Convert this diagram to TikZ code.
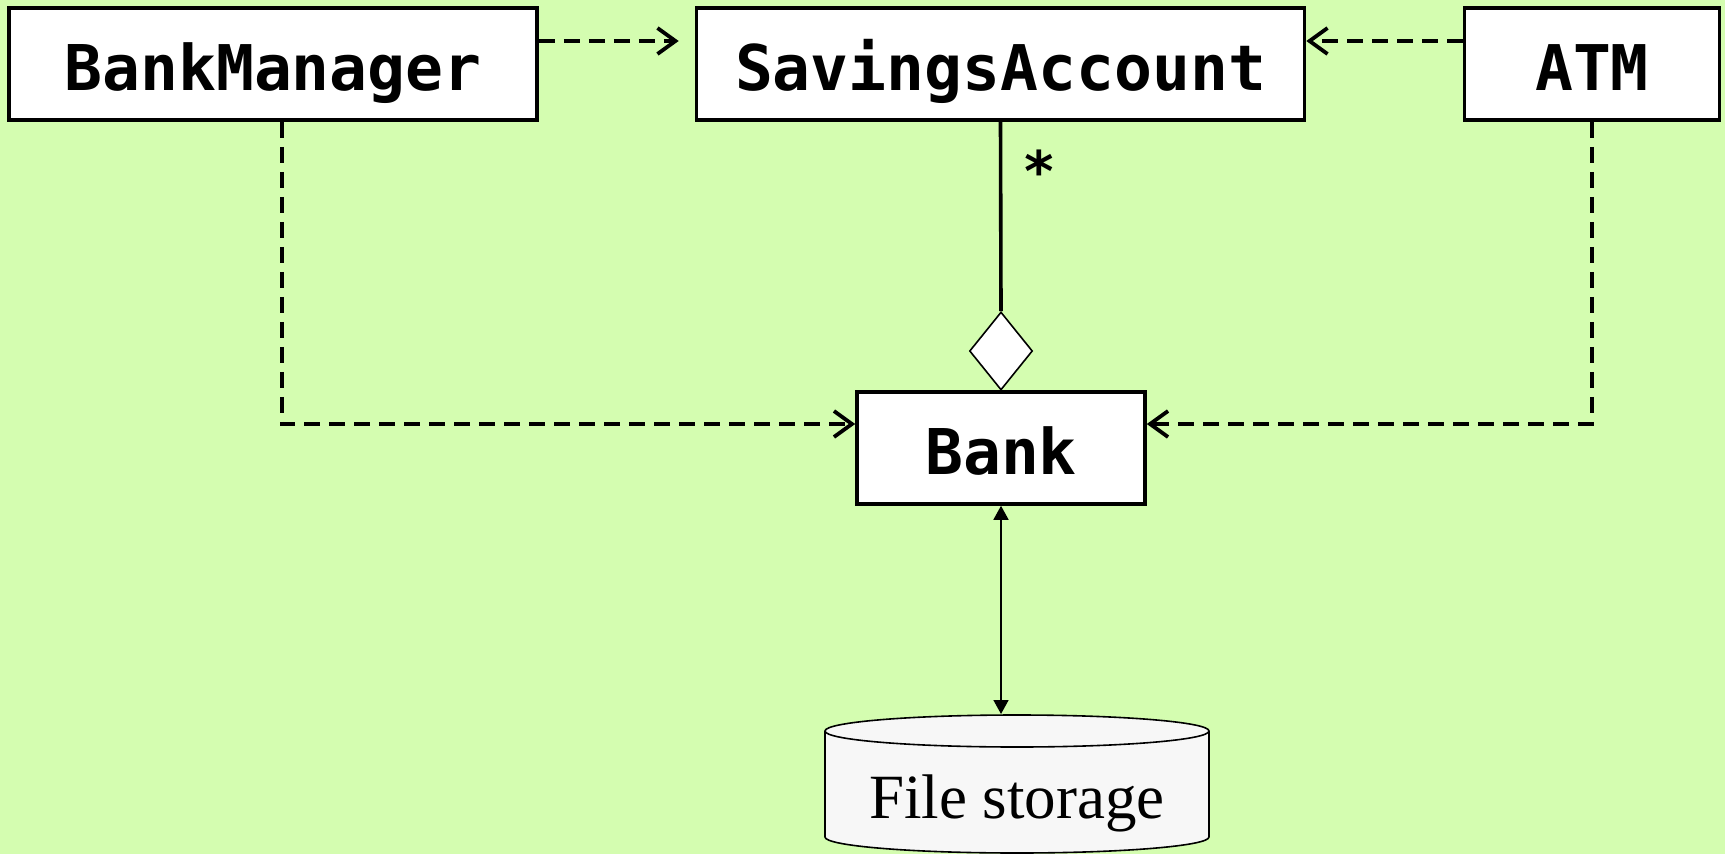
\documentclass[tikz,border=0pt]{standalone}
\usepackage{fontspec}
\setmainfont{Liberation Serif}
\newfontfamily\classfont{DejaVu Sans Mono}
\usetikzlibrary{arrows.meta,shapes.geometric}
\definecolor{bggreen}{RGB}{212,253,176}
\definecolor{storefill}{RGB}{247,247,247}

\begin{document}
\begin{tikzpicture}[
    x=1pt, y=-1pt,
    classbox/.style={draw, line width=3.6pt, fill=white, inner sep=0pt,
        minimum height=112pt, text height=52pt, text depth=0pt,
        font=\classfont\bfseries\fontsize{63}{70}\selectfont},
    dep/.style={line width=3.8pt, dash pattern=on 16pt off 9pt,
        -{Straight Barb[length=18pt,width=26pt]}},
    agg/.style={diamond, draw, line width=1.6pt, fill=white, inner sep=0pt,
        aspect=0.81, minimum width=63pt, minimum height=78pt},
    store/.style={line width=1.6pt, {Triangle[length=14pt,width=15pt]}-{Triangle[length=14pt,width=15pt]}}
]

% fond
\fill[bggreen] (0,0) rectangle (1725,854);
\useasboundingbox (0,0) rectangle (1725,854);

% Classes
\node[classbox, minimum width=528pt] (BankManager) at (273,64) {BankManager};
\node[classbox, minimum width=608pt] (SavingsAccount) at (1000.5,64) {SavingsAccount};
\node[classbox, minimum width=255pt] (ATM) at (1592,64) {ATM};
\node[classbox, minimum width=288pt] (Bank) at (1001,448) {Bank};

% Agregação
\node[agg] (aggr) at (1001,351) {};
\node[font=\classfont\bfseries\fontsize{56}{60}\selectfont, inner sep=0pt] (mult) at (1039,171) {*};

% Armazenamento (cilindro)
\filldraw[fill=storefill, line width=1.6pt] (825,731) -- (825,837)
    arc[start angle=180, end angle=0, x radius=192, y radius=16] -- (1209,731)
    arc[start angle=0, end angle=-180, x radius=192, y radius=16] -- cycle;
\draw[line width=1.6pt] (825,731) arc[start angle=180, end angle=0, x radius=192, y radius=16];
\node[font=\fontsize{63}{70}\selectfont, anchor=base] (storage) at (1017,818) {File storage};
\coordinate (storetop) at (1001,714);

% --- Dependências (tracejadas) ---
\draw[dep, shorten >=16pt] ([yshift=23pt]BankManager.east) -- ([yshift=23pt]SavingsAccount.west);
\draw[dep] ([yshift=23pt]ATM.west) -- ([yshift=23pt]SavingsAccount.east);
\draw[dep] ([xshift=8.6pt]BankManager.south) |- ([yshift=24pt]Bank.west);
\draw[dep] (ATM.south) |- ([yshift=24pt]Bank.east);

% --- Composição e arquivo ---
\draw[line width=3.6pt] (SavingsAccount.south) -- (aggr.north);
\draw[store] (Bank.south) -- (storetop);

\end{tikzpicture}
\end{document}
